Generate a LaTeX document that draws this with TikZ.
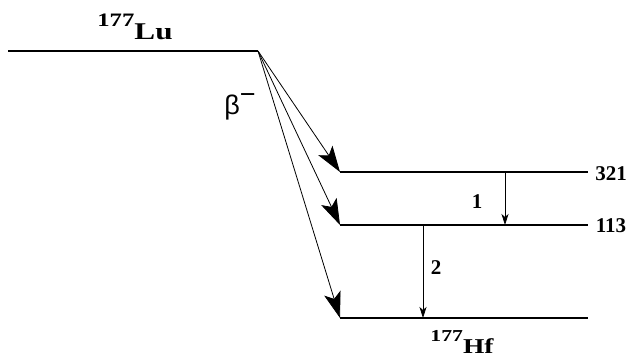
\documentclass[tikz,border=0pt]{standalone}
\usepackage{fontspec}
\usepackage{graphicx}
\setmainfont{Liberation Serif}
\newfontfamily\betafont{Liberation Sans}
\usetikzlibrary{arrows.meta}
\newcommand\nucl[3][1]{\scalebox{#1}{\scalebox{1.3}[1]{\bfseries\fontsize{19}{19}\selectfont\raisebox{13pt}{#2}\fontsize{24}{24}\selectfont #3}}}
\begin{document}
\begin{tikzpicture}[x=1pt,y=-1pt,
  level/.style={line width=2.6pt},
  beta/.style={line width=0.8pt,-{Stealth[length=26pt,width=17pt,inset=6pt]}},
  gam/.style={line width=0.8pt,-{Stealth[length=11pt,width=7pt,inset=3pt]}},
  lab/.style={font=\fontsize{21}{21}\selectfont\bfseries}]
\useasboundingbox (0,0) rectangle (630,361);
% levels
\coordinate (lu0) at (8,51);
\coordinate (lu1) at (258,51);
\coordinate (a0) at (340,172);
\coordinate (a1) at (588,172);
\coordinate (b0) at (340,225);
\coordinate (b1) at (588,225);
\coordinate (c0) at (340,318);
\coordinate (c1) at (588,318);
\draw[level] (lu0) -- (lu1);
\draw[level] (a0) -- (a1);
\draw[level] (b0) -- (b1);
\draw[level] (c0) -- (c1);
% beta arrows
\draw[beta] (lu1) -- (a0);
\draw[beta] (lu1) -- (b0);
\draw[beta] (lu1) -- (c0);
% gamma transitions
\coordinate (g1s) at (505,172);
\coordinate (g1e) at (505,225);
\coordinate (g2s) at (423,225);
\coordinate (g2e) at (423,318);
\draw[gam] (g1s) -- (g1e);
\draw[gam] (g2s) -- (g2e);
% labels
\node[lab] (n1) at (477,202) {1};
\node[lab] (n2) at (436,268) {2};
\node[lab] (e321) at (611,174) {321};
\node[lab] (e113) at (611,226) {113};
\node (lu) at (135,27) {\nucl{177}{Lu}};
\node (hf) at (462,342) {\nucl[0.88]{177}{Hf}};
\node[font=\fontsize{27}{27}\selectfont\betafont] (beta) at (240,107) {β\raisebox{11pt}{−}};
\end{tikzpicture}
\end{document}
